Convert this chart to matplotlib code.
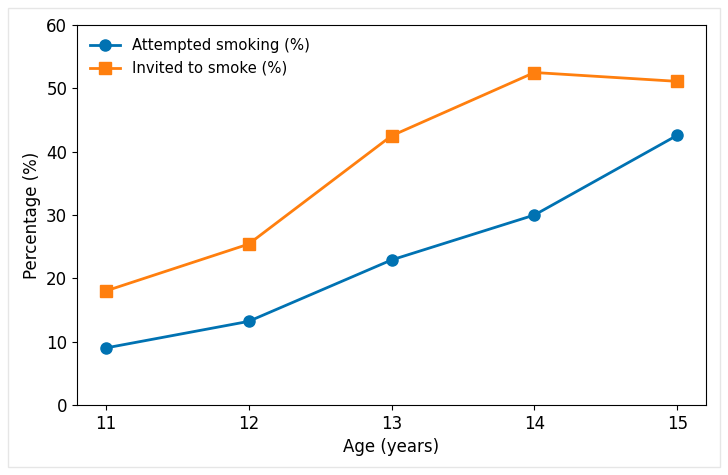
import matplotlib.pyplot as plt
from matplotlib.patches import Rectangle

ages = [11, 12, 13, 14, 15]
attempted = [9.0, 13.2, 22.9, 30.0, 42.6]
invited = [18.0, 25.4, 42.5, 52.5, 51.1]

fig = plt.figure(figsize=(7.28, 4.75), dpi=100)
ax = fig.add_axes([77/728, 1 - 405/475, (706-77)/728, (405-25)/475])

# light frame around the whole picture
fig.patches.append(Rectangle((8/728, 8/475), 712/728, 459/475, transform=fig.transFigure,
                             fill=False, edgecolor='#e6e6e6', linewidth=1))

ax.plot(ages, attempted, '-o', color='#0072b2', markersize=8, linewidth=2, label='Attempted smoking (%)')
ax.plot(ages, invited, '-s', color='#ff7f0e', markersize=8, linewidth=2, label='Invited to smoke (%)')

ax.set_ylim(0, 60)
ax.set_xticks(ages)
ax.tick_params(labelsize=12)
ax.set_xlabel('Age (years)', fontsize=12)
ax.set_ylabel('Percentage (%)', fontsize=12)
ax.legend(loc='upper left', frameon=False, fontsize=10.7)

fig.savefig('out.png', dpi=100)
